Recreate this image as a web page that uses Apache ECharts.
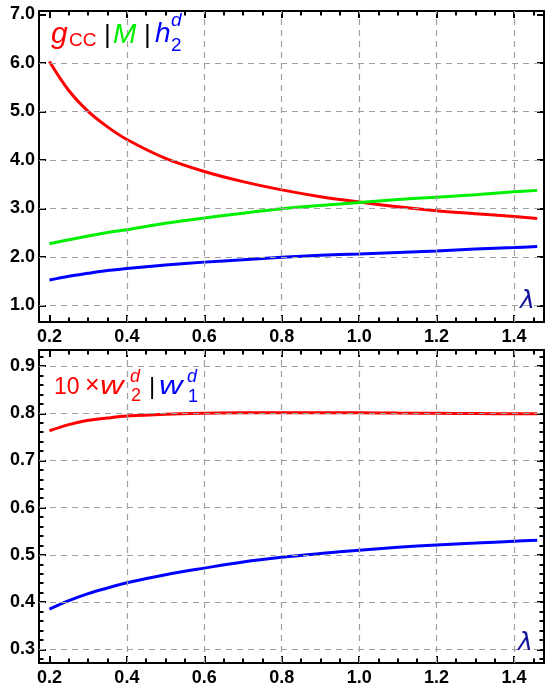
<!DOCTYPE html>
<html>
<head>
<meta charset="utf-8">
<script src="https://cdn.jsdelivr.net/npm/echarts@6/dist/echarts.min.js"></script>
<style>
  html, body { margin: 0; padding: 0; background: #fff; }
  #chart { width: 548px; height: 692px; }
</style>
</head>
<body>
<div id="chart"></div>
<script>
// Coupling parameter lambda (shared by every curve)
const lambda = [0.2, 0.25, 0.3, 0.35, 0.4, 0.5, 0.6, 0.7, 0.8, 0.9, 1.0, 1.1, 1.2, 1.3, 1.4, 1.46];

// Upper panel: g_CC, M, h_2^d
const gCC  = [6.03, 5.43, 5.00, 4.68, 4.42, 4.03, 3.76, 3.55, 3.38, 3.24, 3.13, 3.03, 2.95, 2.89, 2.83, 2.79];
const massM = [2.27, 2.35, 2.43, 2.50, 2.56, 2.69, 2.80, 2.90, 2.99, 3.06, 3.12, 3.18, 3.23, 3.28, 3.34, 3.37];
const h2d  = [1.52, 1.60, 1.66, 1.715, 1.76, 1.83, 1.89, 1.94, 1.99, 2.03, 2.06, 2.09, 2.12, 2.16, 2.19, 2.21];

// Lower panel: 10 x w_2^d, w_1^d
const w2dTimes10 = [0.763, 0.776, 0.785, 0.790, 0.794, 0.798, 0.800, 0.801, 0.801, 0.801, 0.801, 0.8005, 0.800, 0.7995, 0.799, 0.799];
const w1d  = [0.385, 0.403, 0.418, 0.430, 0.441, 0.458, 0.472, 0.485, 0.495, 0.503, 0.510, 0.516, 0.521, 0.525, 0.529, 0.531];

// Tick / grid-line positions
const xTickLabels = [0.2, 0.4, 0.6, 0.8, 1.0, 1.2, 1.4];
const xGridLines = [0.4, 0.6, 0.8, 1.0, 1.2, 1.4];
const topYGridLines = [1, 2, 3, 4, 5, 6];
const bottomYGridLines = [0.3, 0.4, 0.5, 0.6, 0.7, 0.8, 0.9];

// Plot ranges (frame edges)
const xRange = [0.173, 1.4775];
const topYRange = [0.655, 7.07];
const bottomYRange = [0.271, 0.934];

const RED = '#ff0000', GREEN = '#00f000', BLUE = '#0000ff', NAVY = '#14149c';
const TICK = '#000';
const LABEL_FONT = 'Liberation Sans';

const pairs = ys => lambda.map((x, i) => [x, ys[i]]);

function frameLine() {
  return { show: true, onZero: false, lineStyle: { color: '#000', width: 2 } };
}

function xAxisDef(gridIndex, position, showLabels) {
  return {
    type: 'value', gridIndex, position,
    min: xRange[0], max: xRange[1], splitNumber: 6,
    axisLine: frameLine(),
    axisTick: { show: true, inside: true, length: 7, lineStyle: { color: TICK, width: 2 } },
    minorTick: { show: true, splitNumber: 4, length: 4.5, lineStyle: { color: TICK, width: 2 } },
    splitLine: { show: false },
    minorSplitLine: { show: false },
    axisLabel: {
      show: showLabels, showMinLabel: false, showMaxLabel: false, margin: 6,
      color: '#000', fontFamily: LABEL_FONT, fontWeight: 'bold', fontSize: 18,
      formatter: v => xTickLabels.some(t => Math.abs(t - v) < 1e-6) ? v.toFixed(1) : ''
    }
  };
}

function yAxisDef(gridIndex, position, range, showLabels, minorSplit) {
  return {
    type: 'value', gridIndex, position,
    min: range[0], max: range[1], splitNumber: 6,
    axisLine: frameLine(),
    axisTick: { show: true, inside: true, length: 7, lineStyle: { color: TICK, width: 2 } },
    minorTick: { show: minorSplit > 0, splitNumber: minorSplit || 5, length: 4.5, lineStyle: { color: TICK, width: 2 } },
    splitLine: { show: false },
    minorSplitLine: { show: false },
    axisLabel: {
      show: showLabels, showMinLabel: false, showMaxLabel: false, margin: 4,
      color: '#000', fontFamily: LABEL_FONT, fontWeight: 'bold', fontSize: 18,
      formatter: v => v.toFixed(1)
    }
  };
}

function gridSeries(xi, yi, yLines) {
  const dash = { color: '#a0a0a0', width: 1.2, type: [6, 5] };
  return {
    type: 'line', xAxisIndex: xi, yAxisIndex: yi, data: [], z: 1, silent: true,
    markLine: {
      silent: true, symbol: 'none', label: { show: false }, animation: false,
      lineStyle: dash,
      data: xGridLines.map(v => ({ xAxis: v })).concat(yLines.map(v => ({ yAxis: v })))
    }
  };
}

function curve(xi, yi, ys, color) {
  return {
    type: 'line', xAxisIndex: xi, yAxisIndex: yi, data: pairs(ys),
    showSymbol: false, smooth: 0.35, z: 3,
    lineStyle: { color, width: 3 }, animation: false
  };
}

function txt(text, x, baseline, size, color, italic, opts) {
  const o = opts || {};
  return {
    type: 'text', left: x, top: baseline - size * 0.86, z: 10, silent: true,
    scaleX: o.scaleX || 1,
    style: {
      text, fill: color, fontSize: size,
      fontFamily: o.family || LABEL_FONT, fontStyle: italic ? 'italic' : 'normal',
      fontWeight: o.weight || 'normal'
    }
  };
}

const chart = echarts.init(document.getElementById('chart'), null, { renderer: 'canvas' });

chart.setOption({
  animation: false,
  backgroundColor: '#fff',
  grid: [
    { left: 39, right: 4, top: 11, height: 311 },
    { left: 39, right: 4, top: 350, height: 313 }
  ],
  xAxis: [
    xAxisDef(0, 'bottom', true),
    xAxisDef(0, 'top', false),
    xAxisDef(1, 'bottom', true),
    xAxisDef(1, 'top', false)
  ],
  yAxis: [
    yAxisDef(0, 'left', topYRange, true, 0),
    yAxisDef(0, 'right', topYRange, false, 0),
    yAxisDef(1, 'left', bottomYRange, true, 5),
    yAxisDef(1, 'right', bottomYRange, false, 5)
  ],
  series: [
    gridSeries(0, 0, topYGridLines),
    curve(0, 0, gCC, RED),
    curve(0, 0, massM, GREEN),
    curve(0, 0, h2d, BLUE),
    gridSeries(2, 2, bottomYGridLines),
    curve(2, 2, w2dTimes10, RED),
    curve(2, 2, w1d, BLUE)
  ],
  graphic: [
    // g_CC | M | h_2^d
    txt('g', 51, 45, 30, RED, true),
    txt('CC', 69, 48, 19, RED, false),
    txt('|', 104, 45, 26, '#000', false),
    txt('M', 113, 45, 28, GREEN, true),
    txt('|', 144, 45, 26, '#000', false),
    txt('h', 155, 44, 28, BLUE, true),
    txt('d', 171, 28, 19, BLUE, true),
    txt('2', 171, 53, 19, BLUE, false),
    // 10 × w_2^d | w_1^d
    txt('10', 54, 396, 23, RED, false),
    txt('\u00d7', 85, 395, 25, RED, false),
    txt('w', 100, 396, 25, RED, true, { scaleX: 1.3 }),
    txt('d', 130, 383, 18, RED, true),
    txt('2', 131, 403, 18, RED, false),
    txt('|', 149, 396, 24, '#000', false),
    txt('w', 159, 396, 25, BLUE, true, { scaleX: 1.3 }),
    txt('d', 187, 383, 18, BLUE, true),
    txt('1', 188, 404, 18, BLUE, false),
    // axis variable
    txt('\u03bb', 520, 310, 25, NAVY, true, { family: 'DejaVu Sans' }),
    txt('\u03bb', 518, 652, 25, NAVY, true, { family: 'DejaVu Sans' })
  ]
});
</script>
</body>
</html>
